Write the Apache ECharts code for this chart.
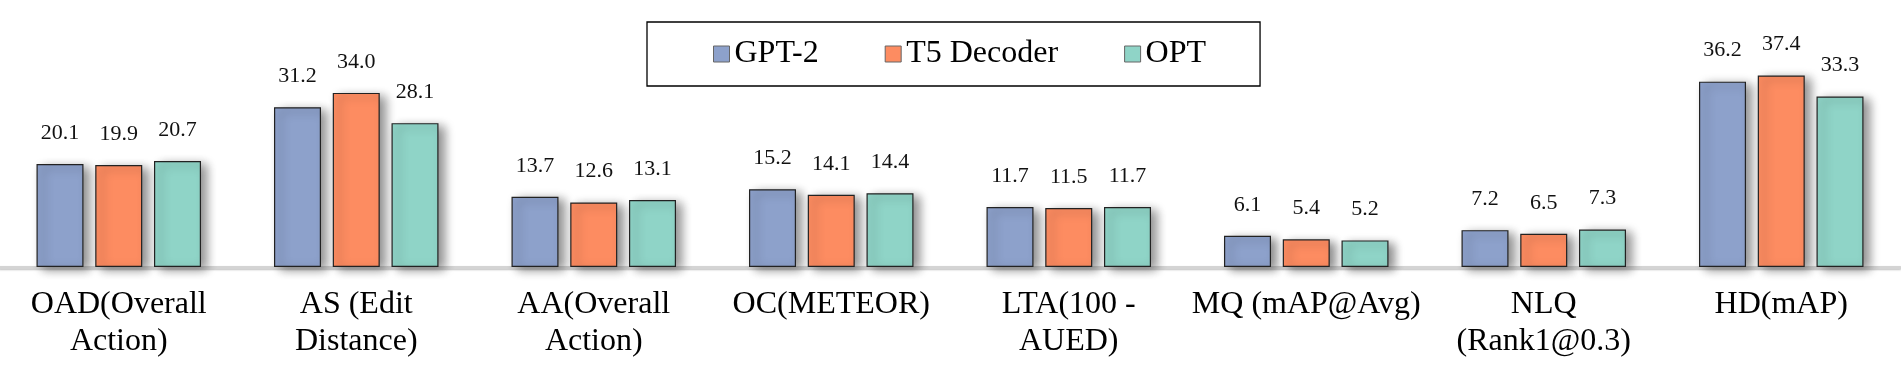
<!DOCTYPE html>
<html lang="en">
<head>
    <meta charset="UTF-8">
    <title></title>
    <style>
        * {
            margin: 0;
            padding: 0;
            box-sizing: border-box;
        }

        html, body {
            width: 1901px;
            height: 380px;
            background: #ffffff;
            overflow: hidden;
        }

        #chart {
            width: 1901px;
            height: 380px;
        }
    </style>
    <script type="text/javascript" src="https://cdn.jsdelivr.net/npm/echarts@6/dist/echarts.min.js"></script>
</head>
<body>
<div id="chart"></div>
<script type="text/javascript">
    var categories = [
        'OAD(Overall\nAction)',
        'AS (Edit\nDistance)',
        'AA(Overall\nAction)',
        'OC(METEOR)',
        'LTA(100 -\nAUED)',
        'MQ (mAP@Avg)',
        'NLQ\n(Rank1@0.3)',
        'HD(mAP)'
    ]
    var seriesNames = ['GPT-2', 'T5 Decoder', 'OPT']
    var gpt2 = [20.1, 31.2, 13.7, 15.2, 11.7, 6.1, 7.2, 36.2]
    var t5 = [19.9, 34.0, 12.6, 14.1, 11.5, 5.4, 6.5, 37.4]
    var opt = [20.7, 28.1, 13.1, 14.4, 11.7, 5.2, 7.3, 33.3]
    var colors = ['#8da1cb', '#fd8c61', '#8fd4c7']

    var serif = "'Times New Roman', 'Liberation Serif', serif"

    function makeBar(name, data, color) {
        return {
            name: name,
            type: 'bar',
            data: data,
            barWidth: 47,
            barGap: '25%',
            itemStyle: {
                color: color,
                borderColor: '#222222',
                borderWidth: 1.2,
                shadowColor: 'rgba(0, 0, 0, 0.45)',
                shadowBlur: 10,
                shadowOffsetX: 6,
                shadowOffsetY: 3
            },
            label: {
                show: true,
                position: 'top',
                distance: 20,
                fontFamily: serif,
                fontSize: 22,
                color: '#111111',
                formatter: function (p) {
                    return p.value.toFixed(1)
                }
            }
        }
    }

    var myChart = echarts.init(document.getElementById('chart'))
    var option = {
        animation: false,
        legend: {
            data: seriesNames,
            left: 647,
            top: 22,
            padding: [16, 54, 16, 66],
            itemGap: 66,
            itemWidth: 16,
            itemHeight: 16,
            borderColor: '#000000',
            borderWidth: 1.3,
            icon: 'rect',
            itemStyle: {
                borderColor: '#666666',
                borderWidth: 1,
                shadowBlur: 0,
                shadowOffsetX: 0,
                shadowOffsetY: 0
            },
            textStyle: {
                fontFamily: serif,
                fontSize: 32,
                color: '#000000'
            }
        },
        grid: {
            left: 0,
            right: 1,
            top: 11,
            bottom: 113,
            containLabel: false
        },
        xAxis: {
            type: 'category',
            data: categories,
            axisTick: {show: false},
            axisLine: {
                lineStyle: {
                    color: '#d4d4d4',
                    width: 3,
                    shadowColor: 'rgba(0, 0, 0, 0.25)',
                    shadowBlur: 2,
                    shadowOffsetY: 1
                }
            },
            axisLabel: {
                interval: 0,
                margin: 19,
                fontFamily: serif,
                fontSize: 32,
                lineHeight: 37,
                color: '#000000'
            }
        },
        yAxis: {
            type: 'value',
            min: 0,
            max: 50,
            show: false,
            splitLine: {show: false}
        },
        series: [
            makeBar(seriesNames[0], gpt2, colors[0]),
            makeBar(seriesNames[1], t5, colors[1]),
            makeBar(seriesNames[2], opt, colors[2])
        ]
    }
    myChart.setOption(option)
</script>
</body>
</html>
